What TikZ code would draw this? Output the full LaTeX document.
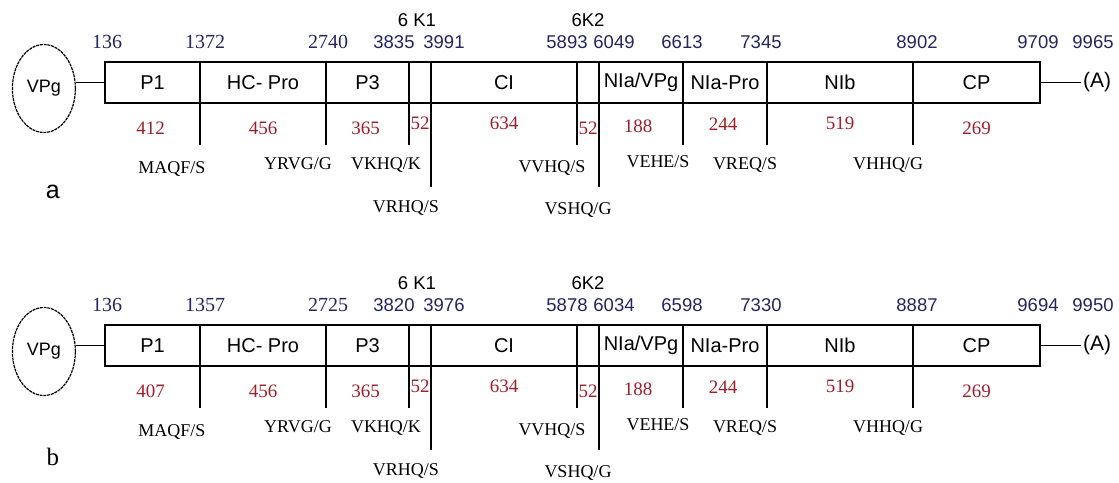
\documentclass[tikz,border=0pt]{standalone}
\usepackage{fontspec}
\setmainfont{Liberation Serif}
\setsansfont{Liberation Sans}
\usetikzlibrary{positioning,shapes.geometric}
\definecolor{mapNavy}{RGB}{35,38,95}
\definecolor{mapRed}{RGB}{160,30,42}

% #1 shift, #2 name prefix, #3 panel letter, #4 P1 length, #5 boundary positions
\newcommand{\genomemap}[5]{%
  \begin{scope}[yshift=#1]
    % polyprotein segments
    \node[seg,minimum width=95pt] (#2p1) at (152.5pt,-82.5pt) {P1};
    \node[seg,minimum width=126pt,right=0pt of #2p1] (#2hc) {HC- Pro};
    \node[seg,minimum width=83pt,right=0pt of #2hc] (#2p3) {P3};
    \node[seg,minimum width=22pt,right=0pt of #2p3] (#2k1) {};
    \node[seg,minimum width=146pt,right=0pt of #2k1] (#2ci) {CI};
    \node[seg,minimum width=22pt,right=0pt of #2ci] (#2k2) {};
    \node[seg,minimum width=84pt,right=0pt of #2k2] (#2nia) {NIa/VPg};
    \node[seg,minimum width=84pt,right=0pt of #2nia] (#2pro) {NIa-Pro};
    \node[seg,minimum width=146pt,right=0pt of #2pro] (#2nib) {NIb};
    \node[seg,minimum width=127pt,right=0pt of #2nib] (#2cp) {CP};
    % ends
    \node[vpg,left=29pt of #2p1,yshift=-6pt] (#2vpg) {VPg};
    \draw[tick] (#2p1.west) -- (#2p1.west -| #2vpg.east);
    \node[right=41pt of #2cp,inner sep=2pt,font=\sffamily\fontsize{21}{24}\selectfont] (#2polyA) {(A)};
    \draw[tick] (#2cp) -- (#2polyA);
    \node[below=52pt of #2vpg,xshift=9pt,inner sep=0pt] (#2lab) {#3};
    % cleavage ticks
    \foreach \sg/\dd [count=\i] in {p1/42pt,hc/42pt,p3/42pt,k1/84pt,ci/42pt,k2/84pt,nia/42pt,pro/42pt,nib/42pt}{
      \coordinate[below=\dd of #2\sg.south east] (#2t\i);
      \draw[tick] (#2\sg.south east) -- (#2t\i);
    }
    % lengths in aa
    \node[len,below=19pt of #2p1,xshift=-2pt] (#2l1) {#4};
    \node[len,below=19pt of #2hc] (#2l2) {456};
    \node[len,below=19pt of #2p3,xshift=-2pt] (#2l3) {365};
    \node[len,below=14pt of #2k1] (#2l4) {52};
    \node[len,below=14pt of #2ci] (#2l5) {634};
    \node[len,below=19pt of #2k2] (#2l6) {52};
    \node[len,below=17pt of #2nia,xshift=-3pt] (#2l7) {188};
    \node[len,below=15pt of #2pro,xshift=-2pt] (#2l8) {244};
    \node[len,below=14pt of #2nib] (#2l9) {519};
    \node[len,below=19pt of #2cp] (#2l10) {269};
    % cleavage sites
    \node[site,below=16pt of #2t1,xshift=-28pt] (#2s1) {MAQF/S};
    \node[site,below=12pt of #2t2,xshift=-28pt] (#2s2) {YRVG/G};
    \node[site,below=12pt of #2t3,xshift=-23pt] (#2s3) {VKHQ/K};
    \node[site,below=13pt of #2t4,xshift=-25pt] (#2s4) {VRHQ/S};
    \node[site,below=15pt of #2t5,xshift=-25pt] (#2s5) {VVHQ/S};
    \node[site,below=15pt of #2t6,xshift=-21pt] (#2s6) {VSHQ/G};
    \node[site,below=10pt of #2t7,xshift=-25pt] (#2s7) {VEHE/S};
    \node[site,below=12pt of #2t8,xshift=-22pt] (#2s8) {VREQ/S};
    \node[site,below=12pt of #2t9,xshift=-25pt] (#2s9) {VHHQ/G};
    % genome positions
    \node[num,text=black,above=35pt of #2k1,xshift=-3pt] (#2k1lab) {6 K1};
    \node[num,text=black,above=35pt of #2k2] (#2k2lab) {6K2};
    \foreach \at/\dx/\st/\num [count=\i] in {#5}
      \node[\st,above=13pt of #2\at,xshift=\dx] (#2n\i) {\num};
  \end{scope}
}

\begin{document}
\begin{tikzpicture}[
  seg/.style={
    draw,
    rectangle,
    minimum height=41pt,
    inner sep=0pt,
    outer sep=0pt,
    line width=1.2pt,
    font=\sffamily\fontsize{20}{22}\selectfont
  },
  vpg/.style={
    draw,
    ellipse,
    minimum width=63pt,
    minimum height=88pt,
    inner sep=0pt,
    line width=1.2pt,
    dash pattern=on 3pt off 0.8pt,
    font=\sffamily\fontsize{18}{20}\selectfont
  },
  tick/.style={line width=1.2pt},
  num/.style={inner sep=0pt,text=mapNavy,font=\sffamily\fontsize{18.5}{20}\selectfont},
  numr/.style={num,font=\rmfamily\fontsize{20}{22}\selectfont},
  len/.style={inner sep=0pt,text=mapRed,font=\rmfamily\fontsize{19}{21}\selectfont},
  site/.style={inner sep=0pt,font=\rmfamily\fontsize{18}{20}\selectfont}
]
  \useasboundingbox (0,0) rectangle (1119pt,-482pt);
  \genomemap{0pt}{a-}{\sffamily\fontsize{25}{28}\selectfont a}{412}{%
    p1.north west/2pt/numr/136, hc.north west/5pt/numr/1372, p3.north west/2pt/numr/2740,
    k1.north west/-15pt/num/3835, ci.north west/13pt/num/3991, k2.north west/-10pt/num/5893,
    nia.north west/15pt/num/6049, pro.north west/-1pt/num/6613, nib.north west/-6pt/num/7345,
    cp.north west/4pt/num/8902, cp.north east/-2pt/num/9709, cp.north east/53pt/num/9965}
  \genomemap{-263pt}{b-}{\rmfamily\fontsize{25}{28}\selectfont b}{407}{%
    p1.north west/2pt/numr/136, hc.north west/5pt/numr/1357, p3.north west/2pt/numr/2725,
    k1.north west/-15pt/num/3820, ci.north west/13pt/num/3976, k2.north west/-10pt/num/5878,
    nia.north west/15pt/num/6034, pro.north west/-1pt/num/6598, nib.north west/-6pt/num/7330,
    cp.north west/4pt/num/8887, cp.north east/-2pt/num/9694, cp.north east/53pt/num/9950}
\end{tikzpicture}
\end{document}
